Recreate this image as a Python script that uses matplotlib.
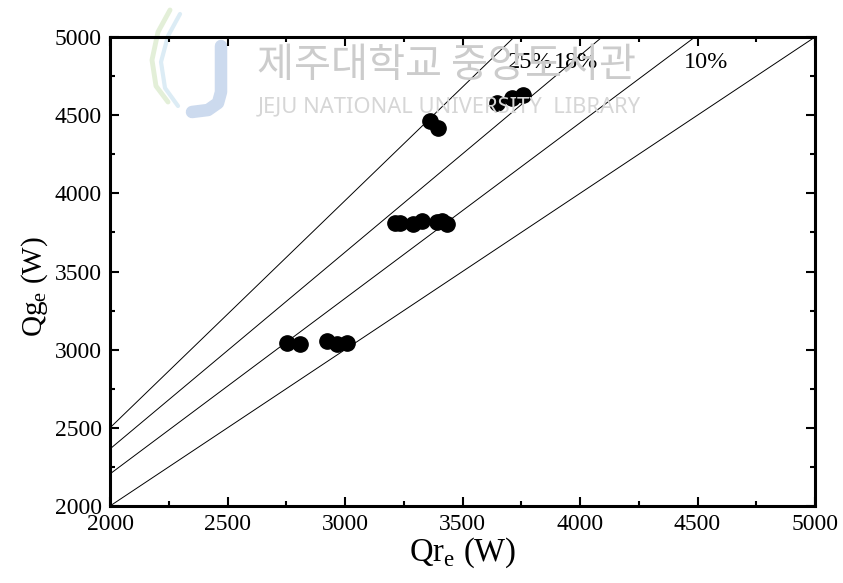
import matplotlib
matplotlib.use("Agg")
import matplotlib.pyplot as plt
from matplotlib.lines import Line2D
from matplotlib.ticker import MultipleLocator

plt.rcParams['font.family'] = ['Liberation Serif', 'DejaVu Serif']
plt.rcParams['mathtext.fontset'] = 'custom'
plt.rcParams['mathtext.rm'] = 'Liberation Serif'

# measured points (Qr_e, Qg_e) in W
qr = [2752, 2809, 2922, 2965, 3007,
      3213, 3234, 3291, 3326, 3390, 3411, 3433,
      3362, 3397, 3645, 3709, 3758]
qg = [3043, 3038, 3053, 3038, 3043,
      3812, 3812, 3801, 3822, 3816, 3822, 3801,
      4463, 4415, 4581, 4609, 4628]

# reference lines, start / end points
line_x0 = [2000, 2000, 2000, 2000]
line_y0 = [2500, 2365, 2205, 2000]
line_x1 = [3720, 4094, 4489, 5000]
line_y1 = [5000, 5000, 5000, 5000]

pct_labels = ['25%', '18%', '10%']
pct_x = [3787, 3985, 4536]
pct_y = [4840, 4840, 4840]

W, H = 843, 583
fig = plt.figure(figsize=(8.43, 5.83), dpi=100)
ax = fig.add_axes([0.1305, 0.1321, 0.8363, 0.8044])

# library watermark of the scanned source (faint logo + text)
def px_line(xs, ys, color, lw):
    fig.add_artist(Line2D([x / W for x in xs], [1 - y / H for y in ys],
                          transform=fig.transFigure, color=color, lw=lw,
                          solid_capstyle='round', zorder=0))

px_line([170, 158, 152, 156, 168], [10, 32, 60, 86, 102], '#e3efd8', 3.5)
px_line([180, 168, 161, 165, 178], [14, 36, 62, 88, 106], '#dcecf5', 3)
px_line([221, 221, 218, 208, 192], [46, 92, 103, 110, 112], '#ccdaee', 9)
fig.text(0.305, 0.888, '제주대학교 중앙도서관', family=['Noto Sans CJK KR'],
         fontsize=29, color='#cccccc', ha='left', va='center', zorder=0)
fig.text(0.306, 0.816, 'JEJU NATIONAL UNIVERSITY  LIBRARY', family=['Noto Sans'],
         fontsize=15.8, color='#d6d6d6', ha='left', va='center', zorder=0)
ax.patch.set_alpha(0)

for x0, y0, x1, y1 in zip(line_x0, line_y0, line_x1, line_y1):
    ax.plot([x0, x1], [y0, y1], color='black', lw=0.7)

ax.plot(qr, qg, 'o', color='black', markersize=11, zorder=3)

for t, x, y in zip(pct_labels, pct_x, pct_y):
    ax.text(x, y, t, fontsize=17.5, ha='center', va='center')

ax.set_xlim(2000, 5000)
ax.set_ylim(2000, 5000)
ax.xaxis.set_major_locator(MultipleLocator(500))
ax.yaxis.set_major_locator(MultipleLocator(500))
ax.xaxis.set_minor_locator(MultipleLocator(250))
ax.yaxis.set_minor_locator(MultipleLocator(250))
ax.tick_params(which='both', direction='in', top=True, right=True, labelsize=17, width=1.5)
ax.tick_params(which='major', length=6.5, pad=6)
ax.tick_params(which='minor', length=3.6)
for s in ax.spines.values():
    s.set_linewidth(2.2)

ax.set_xlabel(r'Qr$_\mathregular{e}$ (W)', fontsize=23.5, labelpad=0)
ax.set_ylabel(r'Qg$_\mathregular{e}$ (W)', fontsize=21)
ax.yaxis.set_label_coords(-0.085, 0.467)

fig.savefig('out.png', dpi=100)
